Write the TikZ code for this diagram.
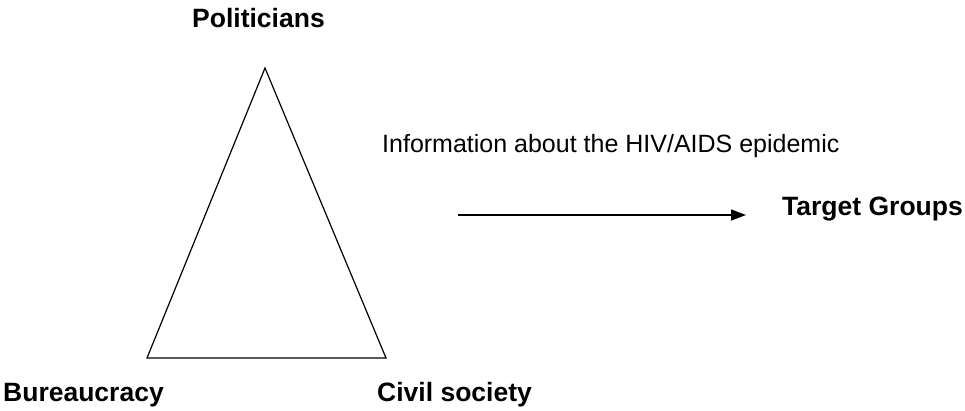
\documentclass[tikz,border=0pt]{standalone}
\usepackage{fontspec}
\setmainfont{Liberation Sans}
\usetikzlibrary{arrows.meta}
\begin{document}
\begin{tikzpicture}[x=1pt,y=-1pt,
  label/.style={inner sep=0pt,anchor=base west,font=\fontsize{25}{30}\selectfont},
  boldlabel/.style={label,font=\fontsize{26.5}{32}\selectfont\bfseries},
  edge/.style={line width=1.2pt,line join=miter},
  flow/.style={line width=1.3pt,-{Triangle[length=15pt,width=11pt]}}]
\useasboundingbox (0,0) rectangle (965,410);
% triangle of actors
\coordinate (apex) at (265,68);
\coordinate (bl) at (147,358);
\coordinate (br) at (386,358);
\draw[edge] (apex) -- (bl) -- (br) -- cycle;
% labels
\node[boldlabel] (pol) at (192,27) {Politicians};
\node[boldlabel] (bur) at (3,401) {Bureaucracy};
\node[boldlabel] (civ) at (377,401) {Civil society};
\node[label] (info) at (382,152) {Information about the HIV/AIDS epidemic};
\node[boldlabel] (tg) at (782,215) {Target Groups};
% information flow
\coordinate (src) at (458,215);
\coordinate (dst) at (746,215);
\draw[flow] (src) -- (dst);
\end{tikzpicture}
\end{document}
